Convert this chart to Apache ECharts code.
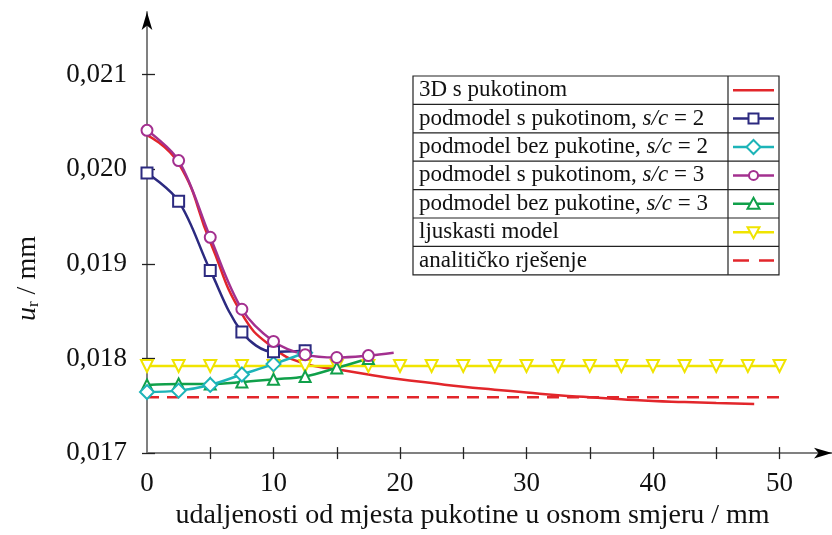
<!DOCTYPE html>
<html>
<head>
<meta charset="utf-8">
<script src="https://cdn.jsdelivr.net/npm/echarts@6/dist/echarts.min.js"></script>
<style>
html,body{margin:0;padding:0;background:#fff;}
#chart{width:832px;height:535px;}
</style>
</head>
<body>
<div id="chart"></div>
<script>
// udaljenost od pukotine (mm)
var xPts = [0, 2.5, 5, 7.5, 10, 12.5, 15, 17.5];
var xShell = [0, 2.5, 5, 7.5, 10, 12.5, 15, 17.5, 20, 22.5, 25, 27.5, 30, 32.5, 35, 37.5, 40, 42.5, 45, 47.5, 50];
var x3d = [0, 2.5, 5, 7.5, 10, 12.5, 15, 17.5, 20, 22.5, 25, 27.5, 30, 32.5, 35, 37.5, 40, 42.5, 45, 48];

// pomaci u_r (mm)
var u3d = [0.02036, 0.02006, 0.01923, 0.01847, 0.01811, 0.017945, 0.017885, 0.01783, 0.01778, 0.01774,
           0.01770, 0.01767, 0.01764, 0.01761, 0.01759, 0.01757, 0.01755, 0.01754, 0.01753, 0.01752];
var uSub2 = [0.01996, 0.01966, 0.01893, 0.01828, 0.01807, 0.01808];
var uBez2 = [0.017645, 0.01766, 0.01772, 0.01783, 0.01794, 0.01806];
var uSub3 = [0.02041, 0.02009, 0.01928, 0.01852, 0.01818, 0.01804, 0.01801, 0.01803];
var uSub3End = [19.5, 0.01806];
var uBez3 = [0.01772, 0.01773, 0.01773, 0.01775, 0.01778, 0.01781, 0.01790, 0.01800];
var uShell = 0.01792;
var uAnal = 0.01759;
var xAnal = [0, 50];

var yTicks = [0.017, 0.018, 0.019, 0.020, 0.021];
var xLabels = [0, 10, 20, 30, 40, 50];
var xTicks = [5, 10, 15, 20, 25, 30, 35, 40, 45, 50];

var legendRows = [
	'{n|3D s pukotinom}',
	'{n|podmodel s pukotinom, }{i|s/c}{n| = 2}',
	'{n|podmodel bez pukotine, }{i|s/c}{n| = 2}',
	'{n|podmodel s pukotinom, }{i|s/c}{n| = 3}',
	'{n|podmodel bez pukotine, }{i|s/c}{n| = 3}',
	'{n|ljuskasti model}',
	'{n|analitičko rješenje}'
];

var RED = '#e2262b', NAVY = '#2c2a80', CYAN = '#1db4b8', PURPLE = '#a3308f', GREEN = '#10a04a', YELLOW = '#f0e400';
var FONT = 'Liberation Serif';

function pairs(xs, ys){
	var out = [];
	for (var i = 0; i < ys.length; i++) out.push([xs[i], ys[i]]);
	return out;
}

var sub3Data = pairs(xPts, uSub3);
sub3Data.push({value: uSub3End, symbol: 'none'});

var shellData = [];
for (var i = 0; i < xShell.length; i++) shellData.push([xShell[i], uShell]);

function markerSeries(name, data, color, symbol, size, rotate){
	return {
		name: name, type: 'line', data: data, smooth: 0.35,
		symbol: symbol, symbolSize: size, symbolRotate: rotate || 0,
		lineStyle: {color: color, width: 2.5},
		itemStyle: {color: color, borderColor: color, borderWidth: 2},
		emphasis: {disabled: true}
	};
}

// legenda kao tablica
var legX = 413, legY = 76, legW = 366, rowH = 28.4, divX = 728;
var legSym = [
	{color: RED, sym: null},
	{color: NAVY, sym: 'rect'},
	{color: CYAN, sym: 'diamond'},
	{color: PURPLE, sym: 'circle'},
	{color: GREEN, sym: 'triangle'},
	{color: YELLOW, sym: 'tridown'},
	{color: RED, sym: 'dash'}
];

function legendGraphics(){
	var g = [];
	var h = rowH * legendRows.length;
	g.push({type: 'rect', shape: {x: legX, y: legY, width: legW, height: h},
		style: {fill: '#fff', stroke: '#222', lineWidth: 1.2}, z: 100});
	g.push({type: 'line', shape: {x1: divX, y1: legY, x2: divX, y2: legY + h},
		style: {stroke: '#222', lineWidth: 1.2}, z: 101});
	for (var r = 0; r < legendRows.length; r++){
		var cy = legY + rowH * (r + 0.5);
		if (r > 0){
			g.push({type: 'line', shape: {x1: legX, y1: legY + rowH * r, x2: legX + legW, y2: legY + rowH * r},
				style: {stroke: '#222', lineWidth: 1.2}, z: 101});
		}
		g.push({type: 'text', x: legX + 6, y: cy, z: 102,
			style: {text: legendRows[r], verticalAlign: 'middle', fill: '#111',
				rich: {n: {fontFamily: FONT, fontSize: 23, fill: '#111'},
					i: {fontFamily: FONT, fontSize: 23, fontStyle: 'italic', fill: '#111'}}}});
		var s = legSym[r];
		var lx1 = divX + 5, lx2 = legX + legW - 5, mx = (lx1 + lx2) / 2;
		g.push({type: 'line', shape: {x1: lx1, y1: cy, x2: lx2, y2: cy}, z: 102,
			style: {stroke: s.color, lineWidth: 2.5, lineDash: s.sym === 'dash' ? [16, 10] : null}});
		var st = {fill: '#fff', stroke: s.color, lineWidth: 2};
		if (s.sym === 'rect'){
			g.push({type: 'rect', shape: {x: mx - 5, y: cy - 5, width: 10, height: 10}, style: st, z: 103});
		} else if (s.sym === 'circle'){
			g.push({type: 'circle', shape: {cx: mx, cy: cy, r: 4.5}, style: st, z: 103});
		} else if (s.sym === 'diamond'){
			g.push({type: 'polygon', shape: {points: [[mx, cy - 7], [mx + 7, cy], [mx, cy + 7], [mx - 7, cy]]}, style: st, z: 103});
		} else if (s.sym === 'triangle'){
			g.push({type: 'polygon', shape: {points: [[mx, cy - 6], [mx + 6, cy + 5], [mx - 6, cy + 5]]}, style: st, z: 103});
		} else if (s.sym === 'tridown'){
			g.push({type: 'polygon', shape: {points: [[mx - 6, cy - 5], [mx + 6, cy - 5], [mx, cy + 6]]}, style: st, z: 103});
		}
	}
	return g;
}

var chart = echarts.init(document.getElementById('chart'));
chart.setOption({
	backgroundColor: '#fff',
	animation: false,
	grid: {left: 147, top: 12, right: 0, bottom: 81},
	xAxis: [{
		type: 'value', min: 0, max: 54.15,
		name: 'udaljenosti od mjesta pukotine u osnom smjeru / mm',
		nameLocation: 'middle', nameGap: 48,
		nameTextStyle: {fontFamily: FONT, fontSize: 28, color: '#111', padding: [0, 34, 0, 0]},
		splitLine: {show: false},
		axisLine: {lineStyle: {color: '#808080', width: 2}},
		axisTick: {show: true, length: 6, customValues: xTicks, lineStyle: {color: '#222', width: 1.3}},
		axisLabel: {customValues: xLabels, margin: 17, fontFamily: FONT, fontSize: 27, color: '#111'}
	}, {
		type: 'value', min: 0, max: 54.15, position: 'bottom',
		splitLine: {show: false},
		axisLine: {show: true, symbol: ['none', 'arrow'], symbolSize: [8, 18], lineStyle: {color: '#000', width: 0}},
		axisTick: {show: true, inside: true, length: 6, customValues: xTicks, lineStyle: {color: '#222', width: 1.3}},
		axisLabel: {show: false}
	}],
	yAxis: [{
		type: 'value', min: 0.017, max: 0.02166,
		name: '{i|u}{s|r}{n| / mm}',
		nameLocation: 'middle', nameRotate: 90, nameGap: 105,
		nameTextStyle: {padding: [0, 92, 0, 0], rich: {
			i: {fontFamily: FONT, fontSize: 28, fontStyle: 'italic', color: '#111'},
			s: {fontFamily: FONT, fontSize: 17, color: '#111', padding: [12, 0, 0, 0]},
			n: {fontFamily: FONT, fontSize: 28, color: '#111'}
		}},
		splitLine: {show: false},
		axisLine: {lineStyle: {color: '#808080', width: 2}},
		axisTick: {show: true, length: 5, customValues: yTicks, lineStyle: {color: '#222', width: 1.3}},
		axisLabel: {customValues: yTicks, margin: 20, fontFamily: FONT, fontSize: 27, color: '#111',
			formatter: function(v){ return v.toFixed(3).replace('.', ','); }}
	}, {
		type: 'value', min: 0.017, max: 0.02166, position: 'left',
		splitLine: {show: false},
		axisLine: {show: true, symbol: ['none', 'arrow'], symbolSize: [8, 18], lineStyle: {color: '#000', width: 0}},
		axisTick: {show: true, inside: true, length: 8, customValues: yTicks, lineStyle: {color: '#222', width: 1.3}},
		axisLabel: {show: false}
	}],
	graphic: legendGraphics(),
	series: [
		{
			name: 'analitičko rješenje', type: 'line', data: pairs(xAnal, [uAnal, uAnal]), symbol: 'none',
			lineStyle: {color: RED, width: 2.5, type: [12, 8]}
		},
		{
			name: '3D s pukotinom', type: 'line', data: pairs(x3d, u3d), symbol: 'none', smooth: 0.5,
			lineStyle: {color: RED, width: 2.5}
		},
		markerSeries('ljuskasti model', shellData, YELLOW, 'emptyTriangle', 12, 180),
		markerSeries('podmodel bez pukotine, s/c = 3', pairs(xPts, uBez3), GREEN, 'emptyTriangle', 11),
		markerSeries('podmodel bez pukotine, s/c = 2', pairs(xPts, uBez2), CYAN, 'emptyDiamond', 14),
		markerSeries('podmodel s pukotinom, s/c = 2', pairs(xPts, uSub2), NAVY, 'emptyRect', 11),
		markerSeries('podmodel s pukotinom, s/c = 3', sub3Data, PURPLE, 'emptyCircle', 11)
	]
});
</script>
</body>
</html>
